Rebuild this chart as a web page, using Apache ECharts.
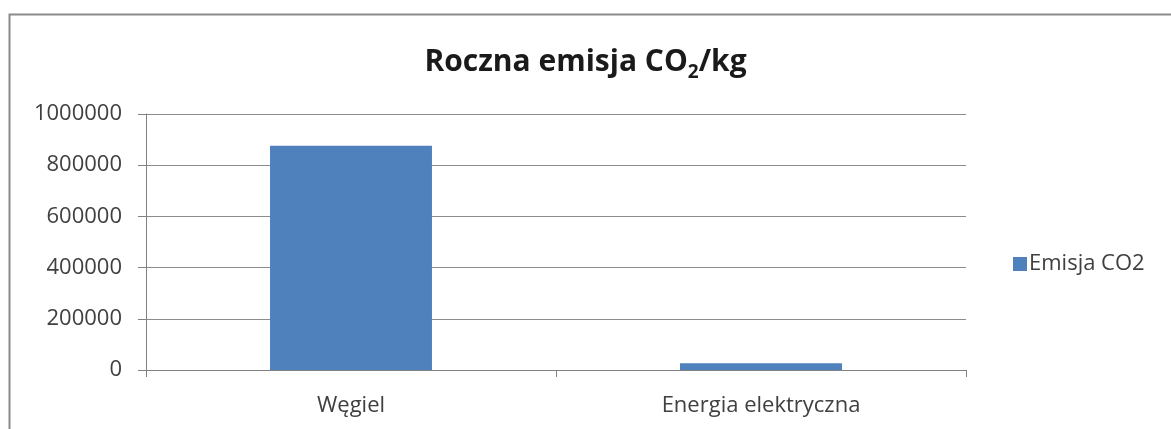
<!DOCTYPE html>
<html>
<head>
<meta charset="utf-8">
<script src="https://cdn.jsdelivr.net/npm/echarts@6/dist/echarts.min.js"></script>
<style>
  html, body { margin: 0; padding: 0; background: #fff; }
  #main { width: 1171px; height: 429px; }
</style>
</head>
<body>
<div id="main"></div>
<script>
  // dane
  var categories = ['Węgiel', 'Energia elektryczna']
  var emisjaCO2 = [876000, 26000]
  var seriesName = 'Emisja CO2'
  var yMin = 0
  var yMax = 1000000
  var yStep = 200000

  var textColor = '#404040'
  var font = '"Open Sans", Lato, sans-serif'

  var myChart = echarts.init(document.getElementById('main'))
  var option = {
    backgroundColor: '#fff',
    textStyle: { fontFamily: font, color: textColor },
    graphic: [
      { // ramka wykresu
        type: 'rect',
        shape: { x: 9.5, y: 14.5, width: 1200, height: 500 },
        style: { fill: 'none', stroke: '#8a8a8a', lineWidth: 2 },
        silent: true
      }
    ],
    title: {
      text: '{a|Roczna emisja CO}{sub|2}{a|/kg}',
      left: 'center',
      top: 42,
      textStyle: {
        rich: {
          a: { fontSize: 30, fontWeight: 'bold', color: '#1a1a1a', fontFamily: font, lineHeight: 40, verticalAlign: 'top' },
          sub: { fontSize: 19, fontWeight: 'bold', color: '#1a1a1a', fontFamily: font, lineHeight: 40, verticalAlign: 'top', padding: [16, 0, 0, 0] }
        }
      }
    },
    legend: {
      data: [seriesName],
      left: 1008,
      top: 248,
      icon: 'rect',
      itemWidth: 14,
      itemHeight: 14,
      itemGap: 6,
      textStyle: { fontSize: 22, color: textColor, fontFamily: font, padding: [0, 0, 0, -3] }
    },
    grid: {
      left: 146,
      right: 205,
      top: 114,
      bottom: 59,
      containLabel: false
    },
    xAxis: {
      type: 'category',
      data: categories,
      axisLine: { lineStyle: { color: '#808080', width: 1 } },
      axisTick: { show: true, length: 7, lineStyle: { color: '#808080' } },
      axisLabel: { fontSize: 22, color: textColor, margin: 25, fontFamily: font }
    },
    yAxis: {
      type: 'value',
      min: yMin,
      max: yMax,
      interval: yStep,
      axisLine: { show: true, lineStyle: { color: '#808080', width: 1 } },
      axisTick: { show: true, length: 8, lineStyle: { color: '#808080' } },
      axisLabel: {
        fontSize: 22, color: textColor, margin: 24, fontFamily: font,
        formatter: function (v) { return String(v) }
      },
      splitLine: { lineStyle: { color: '#8c8c8c', width: 1 } }
    },
    series: [
      {
        name: seriesName,
        type: 'bar',
        data: emisjaCO2,
        barWidth: '39.5%',
        itemStyle: { color: '#4f81bd' }
      }
    ]
  }
  myChart.setOption(option)
</script>
</body>
</html>
